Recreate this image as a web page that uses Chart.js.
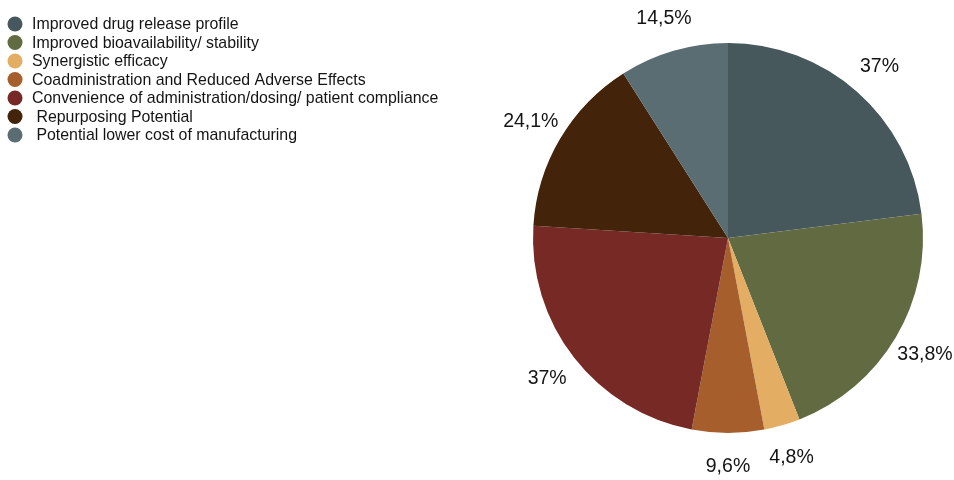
<!DOCTYPE html>
<html>
<head>
<meta charset="utf-8">
<script src="https://cdn.jsdelivr.net/npm/chart.js@4/dist/chart.umd.min.js"></script>
<style>
  html, body { margin: 0; padding: 0; background: #fff; }
  #wrap { position: relative; width: 954px; height: 480px; }
</style>
</head>
<body>
<div id="wrap"><canvas id="pie"></canvas></div>
<script>
const labels = [
    'Improved drug release profile',
    'Improved bioavailability/ stability',
    'Synergistic efficacy',
    'Coadministration and Reduced Adverse Effects',
    'Convenience of administration/dosing/ patient compliance',
    ' Repurposing Potential',
    ' Potential lower cost of manufacturing'
];
const values = [37, 33.8, 4.8, 9.6, 37, 24.1, 14.5];
const colors = ['#46585c', '#626a41', '#e3ae63', '#a55e2c', '#772925', '#43230a', '#5a6d72'];

const FONT = '"Liberation Sans", Arial, Helvetica, sans-serif';

function pct(v){ return String(v).replace('.', ',') + '%'; }

// legend in the top-left corner, one row per slice
const sideLegend = {
    id: 'sideLegend',
    afterDraw(chart){
        const c = chart.ctx;
        c.save();
        c.font = `15.9px ${FONT}`;
        c.textBaseline = 'middle';
        c.textAlign = 'left';
        labels.forEach((txt, i) => {
            const y = 24 + i * 18.5;
            c.fillStyle = colors[i];
            c.beginPath(); c.arc(15, y, 7.5, 0, Math.PI * 2); c.fill();
            c.fillStyle = '#141414';
            c.fillText(txt, 32, y + 1);
        });
        c.restore();
    }
};

// percentage labels outside each slice
const outerLabels = {
    id: 'outerLabels',
    afterDatasetsDraw(chart){
        const c = chart.ctx;
        const meta = chart.getDatasetMeta(0);
        c.save();
        c.font = `19.5px ${FONT}`;
        c.fillStyle = '#141414';
        c.textAlign = 'center';
        c.textBaseline = 'middle';
        meta.data.forEach((arc, i) => {
            const p = arc.getProps(['x', 'y', 'startAngle', 'endAngle', 'outerRadius'], true);
            const mid = (p.startAngle + p.endAngle) / 2;
            const r = p.outerRadius + 34;
            c.fillText(pct(values[i]), p.x + Math.cos(mid) * r, p.y + Math.sin(mid) * r);
        });
        c.restore();
    }
};

new Chart(document.getElementById('pie'), {
    type: 'pie',
    data: {
        labels,
        datasets: [{ data: values, backgroundColor: colors, borderWidth: 0 }]
    },
    options: {
        responsive: true,
        maintainAspectRatio: false,
        animation: false,
        layout: { padding: { top: 43, bottom: 47, left: 533, right: 31 } },
        plugins: { legend: { display: false }, tooltip: { enabled: false } }
    },
    plugins: [sideLegend, outerLabels]
});
</script>
</body>
</html>
